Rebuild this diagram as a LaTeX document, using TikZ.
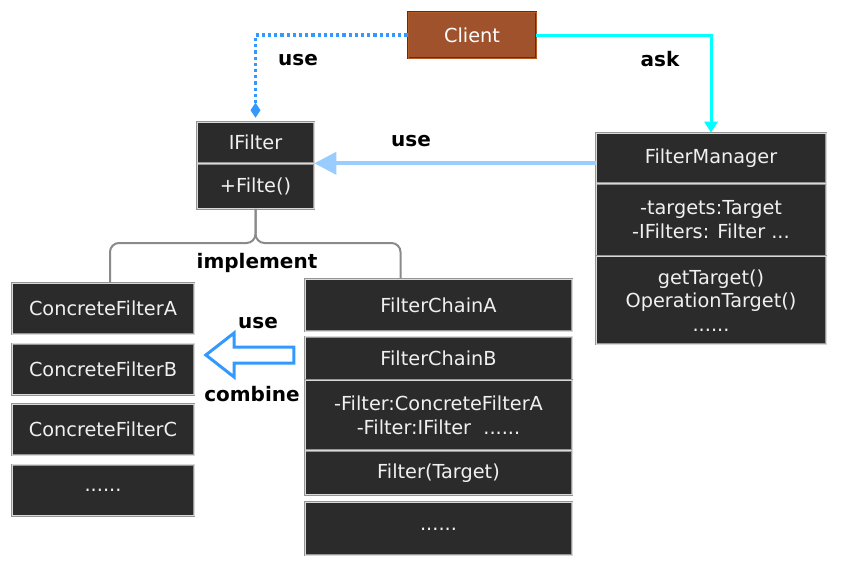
\documentclass[tikz,border=0pt]{standalone}
\usepackage{fontspec}
\setmainfont{DejaVu Sans}
\usetikzlibrary{shapes.geometric, shapes.arrows, arrows, arrows.meta, positioning}
\definecolor{boxfill}{HTML}{2B2B2B}
\definecolor{boxline}{HTML}{959595}
\definecolor{clientfill}{HTML}{A0522D}
\definecolor{clientline}{HTML}{6B2A10}
\definecolor{dotblue}{HTML}{3399FF}
\definecolor{paleblue}{HTML}{99CCFF}
\definecolor{askcyan}{HTML}{00FFFF}
\definecolor{bracegray}{HTML}{8A8A8A}
\tikzstyle{classbox} = [rectangle, inner sep=0pt, align=center, text centered, fill=boxfill, draw=boxline, line width=0.6pt, double=white!85!black, double distance=0.7pt, text=white!94!black, font=\fontsize{19.3}{23.5}\selectfont]
\tikzstyle{clientbox} = [rectangle, minimum width=128pt, minimum height=46pt, fill=clientfill, draw=clientline, line width=0.8pt, double=clientfill!80!orange, double distance=0.8pt, text=white, font=\fontsize{19.3}{23.5}\selectfont]
\tikzstyle{linkword} = [font=\bfseries\fontsize{20}{24}\selectfont, text=black]
\tikzstyle{dotuse} = [dotblue, line width=3.2pt, dash pattern=on 3.2pt off 3pt, -{Diamond[length=15pt,width=10pt,line width=0pt]}, shorten >=4pt]
\tikzstyle{askline} = [askcyan, line width=3pt, -{Triangle[length=11pt,width=13pt]}]
\tikzstyle{paleline} = [paleblue, line width=4pt, -{Triangle[length=22pt,width=22pt]}]
\tikzstyle{bracelink} = [bracegray, line width=2pt, rounded corners=9pt]
\tikzstyle{hollowarrow} = [single arrow, shape border rotate=180, draw=dotblue, fill=white, line width=3pt, inner sep=6.5pt, single arrow head extend=14pt, single arrow tip angle=76, minimum height=88pt]

\begin{document}
\begin{tikzpicture}[x=1pt, y=-1pt, node distance=0pt]
\useasboundingbox (0,0) rectangle (844,565);
\node (client) [clientbox] at (472,35) {Client};
% interface and manager
\node (ifhead) [classbox, minimum width=117pt, minimum height=41pt] at (255.5,142.5) {IFilter};
\node (iffoot) [classbox, minimum width=117pt, minimum height=45pt, below=of ifhead] {+Filte()};
\node (fmhead) [classbox, minimum width=230pt, minimum height=50pt] at (711,158) {FilterManager};
\node (fmattr) [classbox, minimum width=230pt, minimum height=72pt, below=of fmhead] {-targets:Target\\-IFilters: Filter ...};
\node (fmop) [classbox, minimum width=230pt, minimum height=88pt, below=of fmattr] {getTarget()\\OperationTarget()\\......};
% concrete filters
\node (cfa) [classbox, minimum width=182pt, minimum height=51pt] at (103,308.5) {ConcreteFilterA};
\node (cfb) [classbox, minimum width=182pt, minimum height=51pt, below=9pt of cfa] {ConcreteFilterB};
\node (cfc) [classbox, minimum width=182pt, minimum height=51pt, below=9pt of cfb] {ConcreteFilterC};
\node (cfmore) [classbox, minimum width=182pt, minimum height=51pt, below=9pt of cfc] {......};
% filter chains
\node (fca) [classbox, minimum width=267pt, minimum height=52pt] at (438.5,305) {FilterChainA};
\node (fcbhead) [classbox, minimum width=267pt, minimum height=43pt, below=5pt of fca] {FilterChainB};
\node (fcbattr) [classbox, minimum width=267pt, minimum height=70pt, below=of fcbhead] {-Filter:ConcreteFilterA\\-Filter:IFilter\ \ ......};
\node (fcbop) [classbox, minimum width=267pt, minimum height=44pt, below=of fcbattr] {Filter(Target)};
\node (fcmore) [classbox, minimum width=267pt, minimum height=53pt, below=7pt of fcbop] {......};
\node (combarrow) [hollowarrow] at (255,355) {};
\coordinate (fork) at (255.5,243);
% links
\draw [dotuse] (client.west) -| (ifhead.north);
\draw [askline] (client.east) -| (fmhead.north);
\draw [paleline] (fmhead.west |- ifhead.south) -- (ifhead.south east);
\draw [bracelink] (iffoot.south) -- (fork) -| ([xshift=7pt]cfa.north);
\draw [bracelink] (iffoot.south) -- (fork) -| ([xshift=-38pt]fca.north);
\node (useclient) [linkword] at (298,60) {use};
\node (askfm) [linkword] at (660,59) {ask};
\node (usefm) [linkword] at (411,141) {use};
\node (impl) [linkword] at (257,263) {implement};
\node (usechain) [linkword] at (258,323) {use};
\node (combine) [linkword] at (252,394) {combine};
\end{tikzpicture}
\end{document}
